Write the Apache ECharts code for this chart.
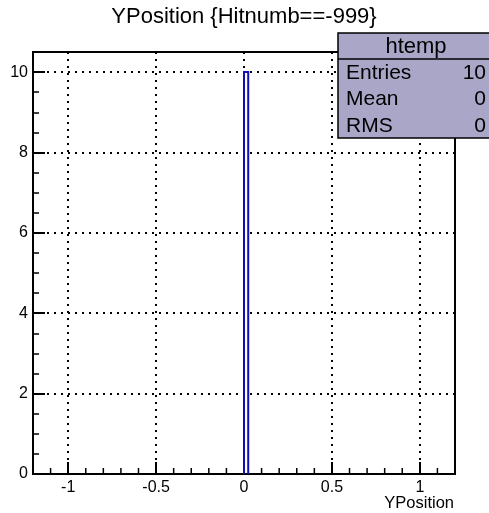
<!DOCTYPE html>
<html>
<head>
<meta charset="utf-8">
<script src="https://cdn.jsdelivr.net/npm/echarts@6/dist/echarts.min.js"></script>
<style>
html,body{margin:0;padding:0;background:#fff;}
#chart{width:489px;height:513px;}
</style>
</head>
<body>
<div id="chart"></div>
<script>
// ---- data ----
var titleText = 'YPosition {Hitnumb==-999}';
var histName = 'htemp';
var binLow = [0];
var binHigh = [0.024];
var binCount = [10];
var xMajorTicks = [-1, -0.5, 0, 0.5, 1];
var xMinorTicks = [-1.1, -0.9, -0.8, -0.7, -0.6, -0.4, -0.3, -0.2, -0.1, 0.1, 0.2, 0.3, 0.4, 0.6, 0.7, 0.8, 0.9, 1.1];
var xRange = [-1.2, 1.2];
var yRange = [0, 10.5];
var yStep = 2;
var statLabels = ['Entries', 'Mean', 'RMS'];
var statValues = ['10', '0', '0'];
var xTitle = 'YPosition';

var FONT = "'Liberation Sans', Arial, Helvetica, sans-serif";
var chart = echarts.init(document.getElementById('chart'), null, {renderer: 'canvas'});

var histData = binLow.map(function (lo, i) { return [lo, binHigh[i], binCount[i]]; });

var statGraphics = [
  {type: 'rect', shape: {x: 338, y: 33, width: 160, height: 105}, style: {fill: '#aaa6c8', stroke: '#000', lineWidth: 1.5}, z: 100},
  {type: 'line', shape: {x1: 338, y1: 59, x2: 489, y2: 59}, style: {stroke: '#000', lineWidth: 1.5}, z: 101},
  {type: 'text', x: 416, y: 47, style: {text: histName, font: '22px ' + FONT, fill: '#000', align: 'center', verticalAlign: 'middle'}, z: 102}
];
statLabels.forEach(function (lab, i) {
  var yy = 73 + i * 26.5;
  statGraphics.push({type: 'text', x: 346, y: yy, style: {text: lab, font: '21px ' + FONT, fill: '#000', align: 'left', verticalAlign: 'middle'}, z: 102});
  statGraphics.push({type: 'text', x: 486, y: yy, style: {text: statValues[i], font: '21px ' + FONT, fill: '#000', align: 'right', verticalAlign: 'middle'}, z: 102});
});

var option = {
  backgroundColor: '#fff',
  animation: false,
  grid: {left: 33, right: 34, top: 52, bottom: 39, show: true, borderColor: '#000', borderWidth: 2, backgroundColor: 'transparent', containLabel: false},
  xAxis: {
    type: 'value', min: xRange[0], max: xRange[1],
    axisLine: {show: true, onZero: false, lineStyle: {color: '#000', width: 2}},
    axisTick: {show: true, inside: true, length: 12, customValues: xMajorTicks, lineStyle: {color: '#000', width: 2}},
    axisLabel: {show: true, customValues: xMajorTicks, margin: 6, color: '#000', fontSize: 16, fontFamily: FONT},
    splitLine: {show: true, lineStyle: {color: '#000', width: 2, type: [2, 5]}},
    minorTick: {show: false}
  },
  yAxis: {
    type: 'value', min: yRange[0], max: yRange[1], interval: yStep,
    axisLine: {show: true, onZero: false, lineStyle: {color: '#000', width: 2}},
    axisTick: {show: true, inside: true, length: 12, lineStyle: {color: '#000', width: 2}},
    minorTick: {show: true, splitNumber: 4, length: 6, lineStyle: {color: '#000', width: 1.5}},
    axisLabel: {show: true, margin: 5, color: '#000', fontSize: 16, fontFamily: FONT, showMaxLabel: false},
    splitLine: {show: true, lineStyle: {color: '#000', width: 2, type: [2, 5]}}
  },
  graphic: [
    {type: 'text', x: 244, y: 17, style: {text: titleText, font: '22px ' + FONT, fill: '#000', align: 'center', verticalAlign: 'middle'}},
    {type: 'text', x: 454, y: 503, style: {text: xTitle, font: '16.5px ' + FONT, fill: '#000', align: 'right', verticalAlign: 'middle'}}
  ].concat(statGraphics),
  series: [
    {
      type: 'custom', name: 'minorTicks', clip: false, silent: true,
      data: xMinorTicks.map(function (v) { return [v]; }),
      renderItem: function (params, api) {
        var p = api.coord([api.value(0), yRange[0]]);
        return {type: 'line', shape: {x1: p[0], y1: p[1], x2: p[0], y2: p[1] - 6}, style: {stroke: '#000', lineWidth: 1.5}};
      },
      z: 5
    },
    {
      type: 'custom', name: histName, clip: false, silent: true,
      data: histData,
      encode: {x: [0, 1], y: 2},
      renderItem: function (params, api) {
        var a = api.coord([api.value(0), 0]);
        var b = api.coord([api.value(1), api.value(2)]);
        return {type: 'polyline', shape: {points: [[a[0], a[1]], [a[0], b[1]], [b[0], b[1]], [b[0], a[1]]]},
          style: {stroke: '#1010b4', lineWidth: 2, fill: null}};
      },
      z: 4
    }
  ]
};
chart.setOption(option);
</script>
</body>
</html>
